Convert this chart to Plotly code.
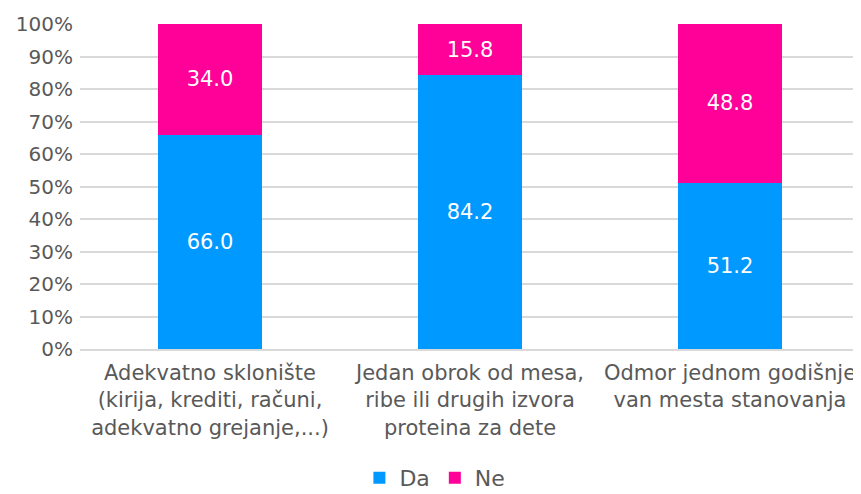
import plotly.graph_objects as go

categories = [
    "Adekvatno sklonište<br>(kirija, krediti, računi,<br>adekvatno grejanje,...)",
    "Jedan obrok od mesa,<br>ribe ili drugih izvora<br>proteina za dete",
    "Odmor jednom godišnje<br>van mesta stanovanja",
]
da_values = [66.0, 84.2, 51.2]
ne_values = [34.0, 15.8, 48.8]
series_names = ["Da", "Ne"]
colors = ["#0099FF", "#FF0099"]
tick_vals = [0, 10, 20, 30, 40, 50, 60, 70, 80, 90, 100]
tick_text = [f"{v}%" for v in tick_vals]

fig = go.Figure()
for name, vals, col in zip(series_names, [da_values, ne_values], colors):
    fig.add_trace(go.Bar(
        x=categories, y=vals, name=name, marker=dict(color=col, line=dict(width=0)),
        text=[f"{v:.1f}" for v in vals], textposition="inside", insidetextanchor="middle",
        textfont=dict(color="white", size=21, family="DejaVu Sans"),
        width=0.4,
    ))

# page body adds an 8px offset, compensated in the margins
fig.update_layout(
    barmode="stack",
    width=861, height=494,
    margin=dict(l=72, r=9, t=16, b=153, autoexpand=False),
    plot_bgcolor="white", paper_bgcolor="white",
    font=dict(family="DejaVu Sans", color="#595959", size=20),
    showlegend=True,
    legend=dict(orientation="h", x=0.455, xanchor="center", y=-0.397, yanchor="middle",
                font=dict(size=22, color="#595959", family="DejaVu Sans"),
                traceorder="normal", itemwidth=30, tracegroupgap=0),
    uniformtext=dict(mode=False),
)
fig.update_yaxes(range=[0, 100], tickvals=tick_vals, ticktext=tick_text,
                 showgrid=True, gridcolor="#D9D9D9", gridwidth=1.5, automargin=False,
                 zeroline=False, showline=False, ticks="", ticklabelstandoff=6,
                 tickfont=dict(family="DejaVu Sans", size=20, color="#595959"))
fig.update_xaxes(showline=True, linecolor="#D9D9D9", linewidth=1.5, ticks="",
                 automargin=False, ticklabelstandoff=4,
                 tickfont=dict(family="DejaVu Sans", size=21, color="#595959"))

fig.write_html("out.html")
